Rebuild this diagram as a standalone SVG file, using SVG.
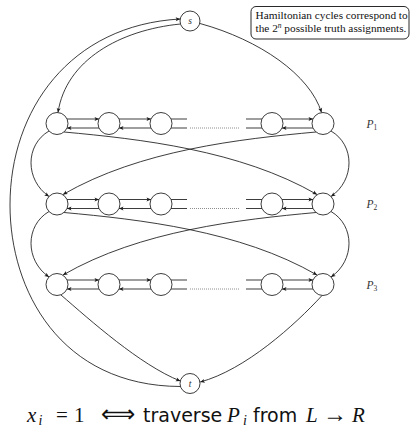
<svg xmlns="http://www.w3.org/2000/svg" width="411" height="435" viewBox="0 0 411 435">
<style>
.e{fill:none;stroke:#1a1a1a;stroke-width:0.85}
.a{marker-end:url(#ah)}
.n{fill:#fff;stroke:#1a1a1a;stroke-width:0.85}
.d{fill:none;stroke:#333;stroke-width:0.7;stroke-dasharray:0.8 1.2}
.lbl{font-family:"Liberation Serif",serif;font-style:italic;fill:#333}
.box{fill:#fff;stroke:#111;stroke-width:0.9}
.bt{font-family:"Liberation Serif",serif;font-size:11.3px;fill:#111}
.m{font-family:"Liberation Serif",serif;font-size:21px;fill:#111}
.mi{font-style:italic}
.ss{font-family:"DejaVu Sans",sans-serif;font-size:19px;font-style:normal}
.sym{font-family:"DejaVu Sans",sans-serif;font-style:normal}
</style>
<defs>
<marker id="ah" markerUnits="userSpaceOnUse" markerWidth="6" markerHeight="6" viewBox="-5 -2.5 6 5" refX="0" refY="0" orient="auto">
<path d="M-4.5,-2 L0,0 L-4.5,2 L-3.4,0 Z" fill="#1a1a1a"/>
</marker>
<g id="row">
<path class="e a" d="M67,-4.5 H99"/>
<path class="e a" d="M99,4.5 H67"/>
<path class="e a" d="M119,-4.5 H151"/>
<path class="e a" d="M151,4.5 H119"/>
<path class="e" d="M171,-4.5 H187 M171,4.5 H187"/>
<path class="d" d="M190,4.5 H240"/>
<path class="e" d="M246,-4.5 H262 M246,4.5 H262"/>
<path class="e a" d="M282,-4.5 H313"/>
<path class="e a" d="M313,4.5 H282"/>
</g>
<g id="link">
<path class="e a" d="M49,7.5 C25,21.5 25,56.5 49,73"/>
<path class="e a" d="M331,7.5 C355,21.5 355,56.5 331,73"/>
<path class="e a" d="M64,8.5 C140,15.5 240,26.5 317,71"/>
<path class="e a" d="M316,8.5 C240,15.5 140,26.5 63,71"/>
</g>
</defs>
<g id="connectors">
<use href="#row" y="123.5"/>
<use href="#row" y="204"/>
<use href="#row" y="284.5"/>
<use href="#link" y="123.5"/>
<use href="#link" y="204"/>
<path class="e a" d="M180.5,386.5 C60,386 10,290 10,205 C10,110 70,25 180.2,19"/>
<path class="e a" d="M180.5,24 C120,30 66,60 58,112.5"/>
<path class="e a" d="M200,23.5 C260,40 310,75 321.5,112.5"/>
<path class="e a" d="M61,295 C90,320 140,365 180.3,381"/>
<path class="e a" d="M322,295.5 C295,325 245,370 200.2,382"/>
</g>
<g id="node-s"><circle class="n" cx="190" cy="21" r="10"/><text class="lbl" x="190" y="24" font-size="9.5" text-anchor="middle">s</text></g>
<g id="node-t"><circle class="n" cx="190" cy="383.5" r="10"/><text class="lbl" x="190" y="386.8" font-size="9.5" text-anchor="middle">t</text></g>
<g id="row1">
<circle class="n" cx="57" cy="123.5" r="11"/><circle class="n" cx="109" cy="123.5" r="11"/><circle class="n" cx="161" cy="123.5" r="11"/><circle class="n" cx="272" cy="123.5" r="11"/><circle class="n" cx="323" cy="123.5" r="11"/>
</g>
<g id="row2">
<circle class="n" cx="57" cy="204" r="11"/><circle class="n" cx="109" cy="204" r="11"/><circle class="n" cx="161" cy="204" r="11"/><circle class="n" cx="272" cy="204" r="11"/><circle class="n" cx="323" cy="204" r="11"/>
</g>
<g id="row3">
<circle class="n" cx="57" cy="284.5" r="11"/><circle class="n" cx="109" cy="284.5" r="11"/><circle class="n" cx="161" cy="284.5" r="11"/><circle class="n" cx="272" cy="284.5" r="11"/><circle class="n" cx="323" cy="284.5" r="11"/>
</g>
<g id="labels">
<text class="lbl" x="366.5" y="127.5" font-size="11.5">P<tspan font-style="normal" font-size="7.5" dy="2">1</tspan></text>
<text class="lbl" x="366.5" y="208" font-size="11.5">P<tspan font-style="normal" font-size="7.5" dy="2">2</tspan></text>
<text class="lbl" x="366.5" y="288.5" font-size="11.5">P<tspan font-style="normal" font-size="7.5" dy="2">3</tspan></text>
</g>
<g id="note">
<rect class="box" x="251" y="6.5" width="158" height="32.5" rx="5"/>
<text class="bt" x="255.5" y="19.3">Hamiltonian cycles correspond to</text>
<text class="bt" x="255.5" y="31.5">the 2<tspan font-size="7.5" dy="-4" font-style="italic">n</tspan><tspan dy="4"> possible truth assignments.</tspan></text>
</g>
<g id="caption">
<text class="m" y="422"><tspan class="mi" x="27">x</tspan><tspan class="mi" font-size="14" x="38.5" dy="3">i</tspan><tspan x="56" dy="-3">=</tspan><tspan x="74">1</tspan><tspan class="sym" font-size="24" x="101">⟺</tspan><tspan class="ss" x="143">traverse</tspan><tspan class="mi" x="227">P</tspan><tspan class="mi" font-size="14" x="243" dy="3">i</tspan><tspan class="ss" x="253" dy="-3">from</tspan><tspan class="mi" x="306">L</tspan><tspan font-size="24" x="323">→</tspan><tspan class="mi" x="352">R</tspan></text>
</g>
</svg>
